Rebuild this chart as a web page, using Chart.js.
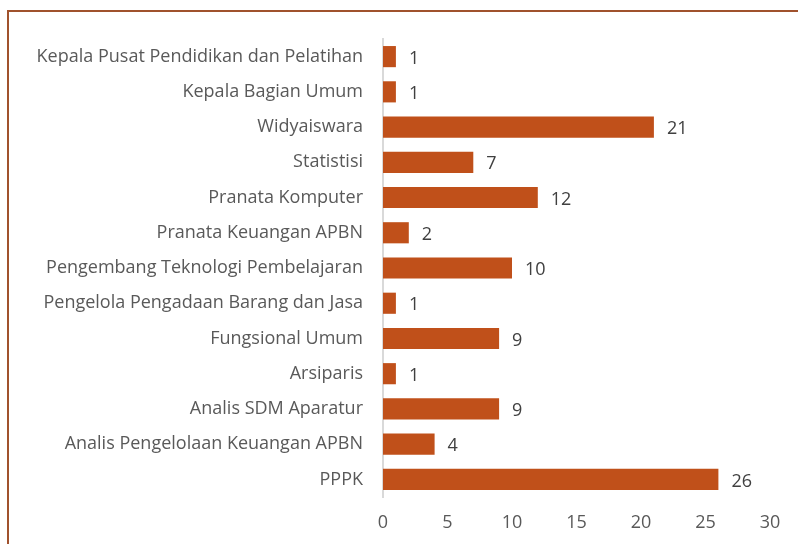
<!DOCTYPE html>
<html>
<head>
<meta charset="utf-8">
<script src="https://cdn.jsdelivr.net/npm/chart.js@4.4.1/dist/chart.umd.min.js"></script>
<style>
  html, body { margin: 0; padding: 0; background: #fff; overflow: hidden; }
  #wrap { position: relative; width: 798px; height: 544px; }
  #frame { position: absolute; left: 7px; top: 10px; width: 900px; height: 700px;
           border-top: 2px solid #A0522D; border-left: 2px solid #A0522D; }
  canvas { position: absolute; left: 0; top: 0; }
</style>
</head>
<body>
<div id="wrap">
  <div id="frame"></div>
  <canvas id="myChart" width="798" height="544"></canvas>
</div>
<script>
const categories = [
  "Kepala Pusat Pendidikan dan Pelatihan",
  "Kepala Bagian Umum",
  "Widyaiswara",
  "Statistisi",
  "Pranata Komputer",
  "Pranata Keuangan APBN",
  "Pengembang Teknologi Pembelajaran",
  "Pengelola Pengadaan Barang dan Jasa",
  "Fungsional Umum",
  "Arsiparis",
  "Analis SDM Aparatur",
  "Analis Pengelolaan Keuangan APBN",
  "PPPK"
];
const counts = [1, 1, 21, 7, 12, 2, 10, 1, 9, 1, 9, 4, 26];
const xTicks = [0, 5, 10, 15, 20, 25, 30];

const fontFamily = "'Open Sans', sans-serif";

// draws the number to the right of each bar
const barValues = {
  id: 'barValues',
  afterDatasetsDraw(chart) {
    const ctx = chart.ctx;
    const meta = chart.getDatasetMeta(0);
    ctx.save();
    ctx.font = "18px " + fontFamily;
    ctx.fillStyle = "#404040";
    ctx.textAlign = "left";
    ctx.textBaseline = "middle";
    meta.data.forEach((bar, i) => {
      ctx.fillText(String(counts[i]), bar.x + 13, bar.y + 2);
    });
    ctx.restore();
  }
};

const ctx = document.getElementById("myChart").getContext("2d");
const chart = new Chart(ctx, {
  type: 'bar',
  data: {
    labels: categories,
    datasets: [{
      data: counts,
      backgroundColor: "#C0501A",
      borderWidth: 0,
      barPercentage: 0.6,
      categoryPercentage: 1.0
    }]
  },
  options: {
    indexAxis: 'y',
    responsive: false,
    animation: false,
    layout: { padding: { top: 39, right: 28, left: 0, bottom: 0 } },
    plugins: {
      legend: { display: false },
      tooltip: { enabled: false }
    },
    scales: {
      x: {
        min: 0,
        max: 30,
        afterBuildTicks(scale) { scale.ticks = xTicks.map(v => ({ value: v })); },
        afterFit(scale) { scale.height = 47; },
        grid: { display: false, drawTicks: false },
        border: { display: false },
        ticks: {
          padding: 15,
          color: "#595959",
          font: { family: fontFamily, size: 18 }
        }
      },
      y: {
        afterFit(scale) { scale.width = 383; },
        grid: { display: false, drawTicks: false },
        border: { display: true, color: "#D9D9D9", width: 2 },
        ticks: {
          padding: 20,
          color: "#595959",
          font: { family: fontFamily, size: 18 }
        }
      }
    }
  },
  plugins: [barValues]
});
</script>
</body>
</html>
